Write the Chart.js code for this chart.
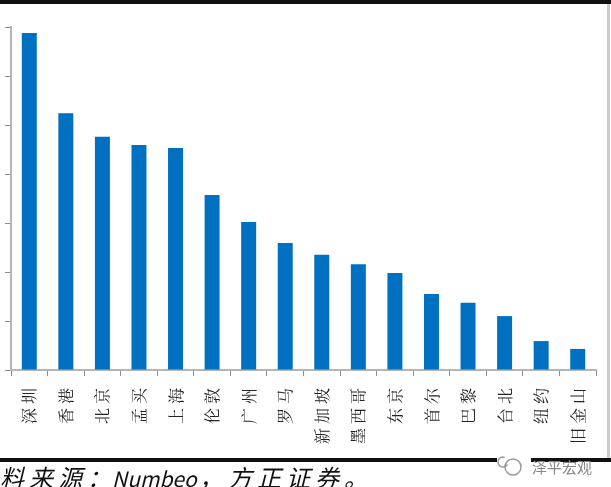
<!DOCTYPE html>
<html lang="zh">
<head>
<meta charset="UTF-8">
<title>Numbeo</title>
<script src="https://cdn.jsdelivr.net/npm/chart.js"></script>
<style>
body { margin: 0; background: #fff; overflow: hidden; }
canvas { display: block; }
</style>
</head>
<body>
<canvas id="chart" width="611" height="487"></canvas>
<script>
const cities = ['深圳', '香港', '北京', '孟买', '上海', '伦敦', '广州', '罗马', '新加坡', '墨西哥', '东京', '首尔', '巴黎', '台北', '纽约', '旧金山'];
const values = [68.8, 52.4, 47.6, 45.9, 45.3, 35.7, 30.2, 25.9, 23.5, 21.6, 19.8, 15.5, 13.7, 11, 5.9, 4.3];
const sourceHead = '料来源：';
const sourceName = 'Numbeo';
const sourceTail = '，方正证券。';
const watermarkText = '泽平宏观';

// black rules, source line and watermark sit outside the plot
const frame = {
    id: 'frame',
    beforeDraw(chart) {
        const c = chart.ctx;
        c.fillStyle = '#fff';
        c.fillRect(0, 0, 611, 487);
        c.letterSpacing = '4px';
    },
    afterDraw(chart) {
        const c = chart.ctx;
        c.letterSpacing = '0px';
        c.save();
        c.fillStyle = '#ccc';
        c.fillRect(607, 4, 3, 454);
        c.fillStyle = '#111';
        c.fillRect(0, 0, 611, 4);
        c.fillRect(0, 458, 611, 4);
        c.textBaseline = 'alphabetic';
        c.font = 'italic 24px "Noto Sans CJK SC"';
        c.letterSpacing = '5px';
        c.fillText(sourceHead, 0, 487);
        c.fillText(sourceTail, 199, 487);
        c.letterSpacing = '0px';
        c.font = 'italic 21px "Noto Sans CJK SC"';
        c.fillText(sourceName, 112, 487);
        // watermark
        c.fillStyle = '#fff';
        c.fillRect(497, 456, 34, 8);
        c.strokeStyle = '#999';
        c.lineWidth = 1.5;
        c.beginPath();
        c.arc(513, 467, 8, 0, Math.PI * 2);
        c.stroke();
        c.beginPath();
        c.arc(503, 462, 5, 0.5, Math.PI * 1.6);
        c.stroke();
        c.fillStyle = '#888';
        c.font = '15px "Noto Sans CJK SC"';
        c.fillText(watermarkText, 532, 473);
        c.restore();
    }
};

new Chart(document.getElementById('chart'), {
    type: 'bar',
    data: {
        labels: cities,
        datasets: [{
            data: values,
            backgroundColor: '#0070C0',
            barPercentage: 0.41,
            categoryPercentage: 1
        }]
    },
    plugins: [frame],
    options: {
        responsive: false,
        animation: false,
        layout: { padding: { top: 27, right: 15, left: 0, bottom: 0 } },
        plugins: { legend: { display: false }, tooltip: { enabled: false } },
        scales: {
            x: {
                afterFit(scale) { scale.height = 117; },
                border: { color: '#b5b5b5', width: 2 },
                grid: { drawOnChartArea: false, color: '#8c8c8c', tickLength: 6, tickWidth: 1 },
                ticks: {
                    autoSkip: false,
                    minRotation: 90,
                    maxRotation: 90,
                    padding: 8,
                    color: '#222',
                    font: { family: '"Noto Serif CJK SC", "Noto Sans CJK SC"', size: 16 },
                    // labels hang from the axis, so short names get padded to three characters
                    callback(value) { return this.getLabelForValue(value).padStart(3, '\u3000'); }
                }
            },
            y: {
                min: 0,
                max: 70,
                afterFit(scale) { scale.width = 11; },
                border: { color: '#b5b5b5', width: 2 },
                grid: { drawOnChartArea: false, color: '#8c8c8c', tickLength: 6, tickWidth: 1 },
                ticks: { stepSize: 10, callback: () => '', padding: 0 }
            }
        }
    }
});
</script>
</body>
</html>
